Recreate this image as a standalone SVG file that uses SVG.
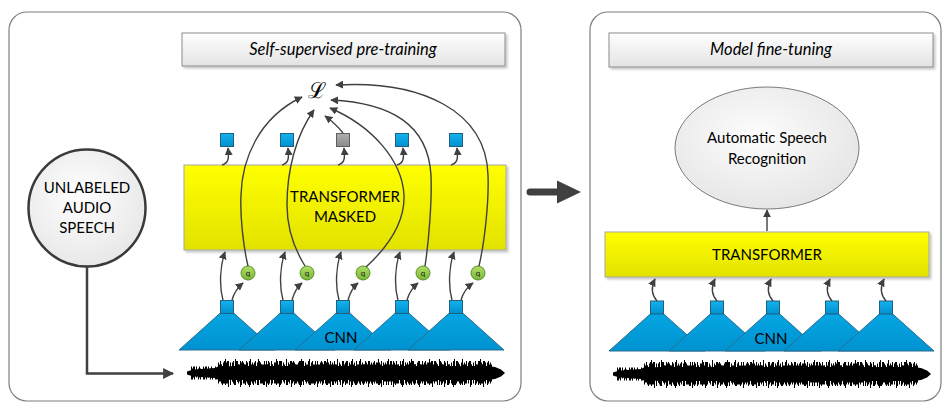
<svg xmlns="http://www.w3.org/2000/svg" width="944" height="403" viewBox="0 0 944 403">
<defs>
  <linearGradient id="gYel" x1="0" y1="0" x2="0" y2="1"><stop offset="0" stop-color="#ffff00"/><stop offset="1" stop-color="#e2e200"/></linearGradient>
  <linearGradient id="gTitle" x1="0" y1="0" x2="0" y2="1"><stop offset="0" stop-color="#ffffff"/><stop offset="1" stop-color="#e3e3e3"/></linearGradient>
  <linearGradient id="gBlue" x1="0" y1="0" x2="0" y2="1"><stop offset="0" stop-color="#14b2ee"/><stop offset="1" stop-color="#0090cf"/></linearGradient>
  <linearGradient id="gTri" x1="0" y1="0" x2="0" y2="1"><stop offset="0" stop-color="#06a8e6"/><stop offset="1" stop-color="#0092d0"/></linearGradient>
  <linearGradient id="gGreen" x1="0" y1="0" x2="0" y2="1"><stop offset="0" stop-color="#b0e066"/><stop offset="1" stop-color="#79b737"/></linearGradient>
  <linearGradient id="gGray" x1="0" y1="0" x2="0" y2="1"><stop offset="0" stop-color="#b0b0b0"/><stop offset="1" stop-color="#8a8a8a"/></linearGradient>
  <radialGradient id="gCirc" cx="0.45" cy="0.4" r="0.7"><stop offset="0" stop-color="#ffffff"/><stop offset="1" stop-color="#e4e4e4"/></radialGradient>
  <radialGradient id="gEll" cx="0.45" cy="0.4" r="0.7"><stop offset="0" stop-color="#fdfdfd"/><stop offset="1" stop-color="#e2e2e2"/></radialGradient>
  <filter id="sh" x="-10%" y="-10%" width="130%" height="140%"><feDropShadow dx="2" dy="2" stdDeviation="1.2" flood-color="#000" flood-opacity="0.22"/></filter>
  <marker id="ah" viewBox="0 0 10 10" refX="9" refY="5" markerWidth="8" markerHeight="8" orient="auto" markerUnits="userSpaceOnUse"><path d="M0,0 L10,5 L0,10 Z" fill="#404040"/></marker>
  <marker id="ahBig" viewBox="0 0 10 10" refX="9" refY="5" markerWidth="11" markerHeight="11" orient="auto" markerUnits="userSpaceOnUse"><path d="M0,0 L10,5 L0,10 Z" fill="#404040"/></marker>
  <g id="wave">
    <polygon fill="#000" points="0,-1.5 3,-2.5 8,-3.5 14,-4 22,-4.5 28,-5 31,-6.5 50,-7 100,-7 200,-7 280,-7 300,-7 308,-6 314,-3.5 318,0 314,3.5 308,6 300,7 280,7 200,7 100,7 50,7 31,6.5 28,5 22,4.5 14,4 8,3.5 3,2.5 0,1.5"/>
    <path d="M4,-1 H30" stroke="#000" stroke-width="11" stroke-dasharray="1 1 2 1 1 2 1 3"/>
    <path d="M4,1 H30" stroke="#000" stroke-width="11" stroke-dasharray="2 1 1 3 1 1 1 2"/>
    <path d="M31,0 H306" stroke="#000" stroke-width="17" stroke-dasharray="2 1 1 1 3 1 1 2 1 1"/>
    <path d="M31,-1 H305" stroke="#000" stroke-width="19" stroke-dasharray="1 1 1 2 2 1 1 3 1 1 1 2"/>
    <path d="M31,1 H305" stroke="#000" stroke-width="19" stroke-dasharray="1 2 1 1 2 1 3 1 1 2 1 1"/>
    <path d="M33,-2.5 H303" stroke="#000" stroke-width="19" stroke-dasharray="1 3 1 2 1 5 1 2 2 4"/>
    <path d="M35,2.5 H303" stroke="#000" stroke-width="19" stroke-dasharray="1 2 1 4 1 3 1 5 2 3"/>
    <path d="M38,-1 H300" stroke="#000" stroke-width="26" stroke-dasharray="1 9 1 14 1 7 1 17"/>
    <path d="M41,1 H300" stroke="#000" stroke-width="26" stroke-dasharray="1 11 1 8 1 16 1 12"/>
  </g>
</defs>
<style>
  .panel{fill:#ffffff;stroke:#7f7f7f;stroke-width:1.2}
  .title{fill:url(#gTitle);stroke:#8c8c8c;stroke-width:1}
  .ttxt{font-family:Lato,"Liberation Sans",sans-serif;font-style:italic;font-size:16.5px;fill:#000;text-anchor:middle}
  .txt{font-family:Lato,"Liberation Sans",sans-serif;font-size:15px;fill:#000;text-anchor:middle}
  .yel{fill:url(#gYel);stroke:#a6a6a6;stroke-width:1}
  .tri{fill:url(#gTri);stroke:#2b6e8f;stroke-width:1}
  .sq{fill:url(#gBlue);stroke:#22607f;stroke-width:1}
  .sqg{fill:url(#gGray);stroke:#5f5f5f;stroke-width:1}
  .q{fill:url(#gGreen);stroke:#5c8e28;stroke-width:1}
  .qt{font-family:Lato,"Liberation Sans",sans-serif;font-size:8px;fill:#222;text-anchor:middle}
  .c{fill:none;stroke:#404040;stroke-width:1.4;marker-end:url(#ah)}
</style>

<g id="panels">
  <rect class="panel" x="9" y="12" width="512" height="389" rx="18"/>
  <rect class="panel" x="590" y="12" width="351" height="389" rx="18"/>
</g>

<g id="title-pretrain">
  <rect class="title" x="182" y="33" width="323" height="33" filter="url(#sh)"/>
  <text class="ttxt" x="343" y="55">Self-supervised pre-training</text>
</g>
<g id="title-finetune">
  <rect class="title" x="609" y="33" width="324" height="34" filter="url(#sh)"/>
  <text class="ttxt" x="771" y="55">Model fine-tuning</text>
</g>

<g id="unlabeled-audio">
  <circle cx="87" cy="208" r="58.5" fill="url(#gCirc)" stroke="#3a3a3a" stroke-width="2.5"/>
  <text class="txt" x="87" y="193">UNLABELED</text>
  <text class="txt" x="87" y="213">AUDIO</text>
  <text class="txt" x="87" y="233">SPEECH</text>
</g>

<g id="loss">
  <text x="317" y="98" font-family="'DejaVu Serif',serif" font-size="22" text-anchor="middle">ℒ</text>
</g>

<g id="targets">
  <rect class="sq" x="220.5" y="133.5" width="13" height="13"/>
  <rect class="sq" x="280.5" y="133.5" width="13" height="13"/>
  <rect class="sqg" x="336.5" y="133.5" width="13" height="13"/>
  <rect class="sq" x="395.5" y="133.5" width="13" height="13"/>
  <rect class="sq" x="449.5" y="133.5" width="13" height="13"/>
</g>

<g id="transformer-masked">
  <rect class="yel" x="184" y="165" width="322" height="85" filter="url(#sh)"/>
  <text class="txt" x="345" y="202">TRANSFORMER</text>
  <text class="txt" x="345" y="222">MASKED</text>
</g>

<g id="quantizers">
  <circle class="q" cx="248" cy="273" r="7"/><text class="qt" x="248" y="276">q</text>
  <circle class="q" cx="307" cy="273" r="7"/><text class="qt" x="307" y="276">q</text>
  <circle class="q" cx="363" cy="273" r="7"/><text class="qt" x="363" y="276">q</text>
  <circle class="q" cx="423" cy="273" r="7"/><text class="qt" x="423" y="276">q</text>
  <circle class="q" cx="478" cy="273" r="7"/><text class="qt" x="478" y="276">q</text>
</g>

<g id="cnn-left">
  <polygon class="tri" points="179,350 227,307 275,350"/>
  <polygon class="tri" points="239,350 287,307 335,350"/>
  <polygon class="tri" points="295,350 343,307 391,350"/>
  <polygon class="tri" points="354,350 402,307 450,350"/>
  <polygon class="tri" points="408,350 456,307 504,350"/>
  <rect class="sq" x="220.5" y="300.5" width="13" height="13"/>
  <rect class="sq" x="280.5" y="300.5" width="13" height="13"/>
  <rect class="sq" x="336.5" y="300.5" width="13" height="13"/>
  <rect class="sq" x="395.5" y="300.5" width="13" height="13"/>
  <rect class="sq" x="449.5" y="300.5" width="13" height="13"/>
  <text class="txt" x="341" y="343">CNN</text>
</g>

<g id="waveform-left">
  <use href="#wave" transform="translate(187,373)"/>
</g>

<g id="asr">
  <ellipse cx="767" cy="148" rx="92" ry="61" fill="url(#gEll)" stroke="#7a7a7a" stroke-width="1"/>
  <text class="txt" x="767" y="143">Automatic Speech</text>
  <text class="txt" x="767" y="164">Recognition</text>
</g>

<g id="transformer">
  <rect class="yel" x="605" y="232" width="324" height="45" filter="url(#sh)"/>
  <text class="txt" x="767" y="260">TRANSFORMER</text>
</g>

<g id="cnn-right">
  <polygon class="tri" points="609,351 657,308 705,351"/>
  <polygon class="tri" points="669,351 717,308 765,351"/>
  <polygon class="tri" points="725,351 773,308 821,351"/>
  <polygon class="tri" points="784,351 832,308 880,351"/>
  <polygon class="tri" points="838,351 886,308 934,351"/>
  <rect class="sq" x="650.5" y="301" width="13" height="13"/>
  <rect class="sq" x="710.5" y="301" width="13" height="13"/>
  <rect class="sq" x="766.5" y="301" width="13" height="13"/>
  <rect class="sq" x="825.5" y="301" width="13" height="13"/>
  <rect class="sq" x="879.5" y="301" width="13" height="13"/>
  <text class="txt" x="771" y="344">CNN</text>
</g>

<g id="waveform-right">
  <use href="#wave" transform="translate(613,374)"/>
</g>

<g id="stage-arrow">
  <path d="M530,192 H562" stroke="#404040" stroke-width="7" stroke-linecap="round" fill="none"/>
  <polygon points="557,180.5 581,192 557,203.5" fill="#404040"/>
</g>

<g id="connectors">
  <path d="M87,267 V373.5 H173" fill="none" stroke="#404040" stroke-width="2.5" marker-end="url(#ahBig)"/>
  <path class="c" d="M223,300 C219,286 220,266 225,252"/>
  <path class="c" d="M283,300 C279,286 280,266 285,252"/>
  <path class="c" d="M339,300 C335,286 336,266 341,252"/>
  <path class="c" d="M398,300 C394,286 395,266 400,252"/>
  <path class="c" d="M452,300 C448,286 449,266 454,252"/>
  <path class="c" d="M232,300 C234,293 237,288 243,283"/>
  <path class="c" d="M292,300 C294,293 296,288 302,283"/>
  <path class="c" d="M348,300 C350,293 352,288 358,283"/>
  <path class="c" d="M407,300 C409,293 412,288 418,283"/>
  <path class="c" d="M461,300 C463,293 466,288 473,283"/>
  <path class="c" d="M222,165 C229,163 229,158 228,148"/>
  <path class="c" d="M282,165 C289,163 289,158 288,148"/>
  <path class="c" d="M338,165 C345,163 345,158 344,148"/>
  <path class="c" d="M397,165 C404,163 404,158 403,148"/>
  <path class="c" d="M451,165 C458,163 458,158 457,148"/>
  <path class="c" d="M248,266 C243,245 240,215 241,195 C242,160 258,118 302,97"/>
  <path class="c" d="M305,266 C295,250 287,230 287,205 C287,170 296,135 314,110"/>
  <path class="c" d="M343,133 Q336,124 325,116"/>
  <path class="c" d="M366,267 C390,245 405,220 404,195 C402,160 372,126 330,108"/>
  <path class="c" d="M425,266 C429,240 432,200 431,175 C428,125 392,103 331,100"/>
  <path class="c" d="M479,266 C485,240 489,200 488,175 C486,110 420,80 336,85"/>
  <path class="c" d="M657,301 C651,294 651,287 655,279"/>
  <path class="c" d="M717,301 C711,294 711,287 715,279"/>
  <path class="c" d="M773,301 C767,294 767,287 771,279"/>
  <path class="c" d="M832,301 C826,294 826,287 830,279"/>
  <path class="c" d="M886,301 C880,294 880,287 884,279"/>
  <path class="c" d="M767,231 V210"/>
</g>
</svg>
